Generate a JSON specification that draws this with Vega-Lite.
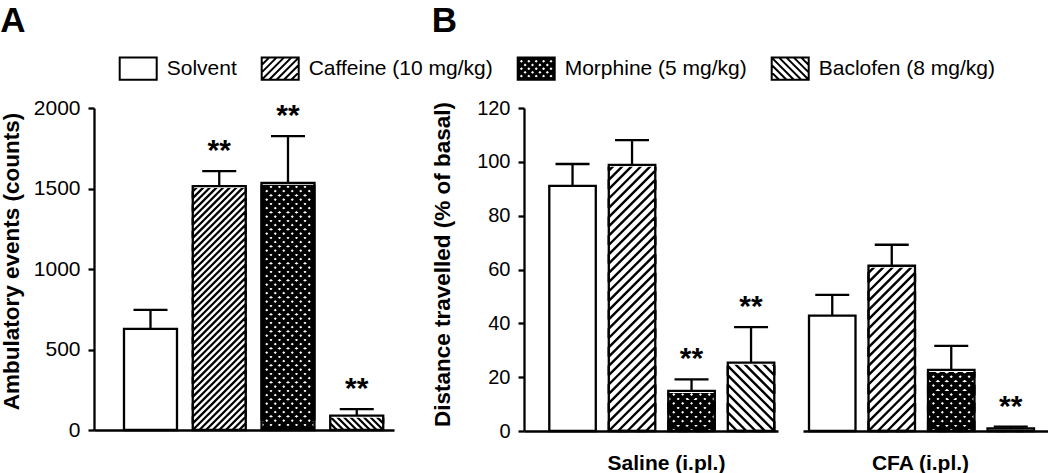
{
  "$schema": "https://vega.github.io/schema/vega-lite/v6.json",
  "background": "white",
  "padding": {"left": 0, "top": 4, "right": 0, "bottom": 0},
  "config": {
    "view": {"stroke": null},
    "axis": {"grid": false, "domainColor": "black", "domainWidth": 2.3, "tickColor": "black", "tickWidth": 2.3, "tickSize": 6, "labelColor": "black", "labelFont": "Liberation Sans", "labelFontSize": 21, "labelPadding": 8, "titleColor": "black", "titleFont": "Liberation Sans", "titleFontSize": 22.5, "titleFontWeight": "bold"},
    "legend": {"orient": "none", "legendX": 33.7, "legendY": -50, "direction": "horizontal", "title": null, "symbolSize": 219.04, "symbolStrokeWidth": 2, "symbolStrokeColor": "black", "labelFontSize": 21, "labelFont": "Liberation Sans", "labelColor": "black", "labelOffset": 18, "columnPadding": 20, "labelLimit": 400, "padding": 0, "symbolOpacity": 1}
  },
  "datasets": {
    "d": [
      {"group": "A", "treatment": "Solvent", "value": 628, "top": 746, "sig": ""},
      {"group": "A", "treatment": "Caffeine", "value": 1515, "top": 1608, "sig": "**"},
      {"group": "A", "treatment": "Morphine", "value": 1535, "top": 1825, "sig": "**"},
      {"group": "A", "treatment": "Baclofen", "value": 89, "top": 130, "sig": "**"},
      {"group": "Saline", "treatment": "Solvent", "value": 91.1, "top": 99.2, "sig": ""},
      {"group": "Saline", "treatment": "Caffeine", "value": 98.9, "top": 108.1, "sig": ""},
      {"group": "Saline", "treatment": "Morphine", "value": 14.9, "top": 19.2, "sig": "**"},
      {"group": "Saline", "treatment": "Baclofen", "value": 25.4, "top": 38.6, "sig": "**"},
      {"group": "CFA", "treatment": "Solvent", "value": 42.9, "top": 50.6, "sig": ""},
      {"group": "CFA", "treatment": "Caffeine", "value": 61.4, "top": 69.2, "sig": ""},
      {"group": "CFA", "treatment": "Morphine", "value": 22.7, "top": 31.6, "sig": ""},
      {"group": "CFA", "treatment": "Baclofen", "value": 1.0, "top": 1.6, "sig": "**"}
    ]
  },
  "spacing": 130,
  "bounds": "flush",
  "resolve": {"scale": {"shape": "independent", "fill": "independent", "stroke": "independent"}, "legend": {"shape": "independent", "fill": "independent", "stroke": "independent"}},
  "hconcat": [
    {
      "width": 300,
      "height": 322,
      "data": {"name": "d"},
      "transform": [{"filter": "datum.group === 'A'"}],
      "title": {"text": "A", "anchor": "start", "frame": "bounds", "fontSize": 35, "fontWeight": "bold", "font": "Liberation Sans", "color": "black", "offset": 19},
      "resolve": {"scale": {"shape": "independent", "fill": "independent", "stroke": "independent"}, "legend": {"shape": "independent", "fill": "independent", "stroke": "independent"}},
      "encoding": {
        "x": {"field": "treatment", "type": "nominal", "scale": {"domain": ["Solvent", "Caffeine", "Morphine", "Baclofen"], "paddingInner": 0.2291, "paddingOuter": 0.29636, "align": 0.736}, "axis": {"labels": false, "ticks": false, "title": null, "zindex": 1}}
      },
      "layer": [
        {
          "transform": [{"filter": "datum.treatment !== 'Solvent'"}],
          "mark": {"type": "point", "filled": false, "opacity": 1, "color": "black", "strokeJoin": "bevel", "strokeCap": "butt"},
          "encoding": {
            "y": {"datum": 0, "type": "quantitative", "scale": {"domain": [0, 2000]}},
            "shape": {
              "field": "treatment", "type": "nominal", "legend": null,
              "scale": {"domain": ["Solvent", "Caffeine", "Morphine", "Baclofen"], "range": [
                "M0,0",
                "M4,-1l-1,1h-1l2,-2v-1l-3,3h-1l4,-4v-1l-5,5h-1l6,-6v-1l-7,7h-1l8,-8v-1l-8,8v-1l8,-8v-1l-8,8v-1l8,-8v-1l-8,8v-1l8,-8v-1l-8,8v-1l8,-8v-1l-8,8v-1l8,-8v-1l-8,8v-1l8,-8v-1l-8,8v-1l8,-8v-1l-8,8v-1l8,-8v-1l-8,8v-1l8,-8v-1l-8,8v-1l8,-8v-1l-8,8v-1l8,-8v-1l-8,8v-1l8,-8v-1l-8,8v-1l8,-8v-1l-8,8v-1l8,-8v-1l-8,8v-1l8,-8v-1l-8,8v-1l8,-8v-1l-8,8v-1l8,-8v-1l-8,8v-1l8,-8v-1l-8,8v-1l8,-8",
                "M3,-1.106l-1,1h-1l2,-2v-1l-3,3h-1l4,-4v-1l-5,5h-1l6,-6v-1l-6,6v-1l6,-6v-1l-6,6v-1l6,-6v-1l-6,6v-1l6,-6v-1l-6,6v-1l6,-6v-1l-6,6v-1l6,-6v-1l-6,6v-1l6,-6v-1l-6,6v-1l6,-6v-1l-6,6v-1l6,-6v-1l-6,6v-1l6,-6v-1l-6,6v-1l6,-6v-1l-6,6v-1l6,-6v-1l-6,6v-1l6,-6v-1l-6,6v-1l6,-6v-1l-6,6v-1l6,-6v-1l-6,6v-1l6,-6M-3,-1.106l1,1h1l-2,-2v-1l3,3h1l-4,-4v-1l5,5h1l-6,-6v-1l6,6v-1l-6,-6v-1l6,6v-1l-6,-6v-1l6,6v-1l-6,-6v-1l6,6v-1l-6,-6v-1l6,6v-1l-6,-6v-1l6,6v-1l-6,-6v-1l6,6v-1l-6,-6v-1l6,6v-1l-6,-6v-1l6,6v-1l-6,-6v-1l6,6v-1l-6,-6v-1l6,6v-1l-6,-6v-1l6,6v-1l-6,-6v-1l6,6v-1l-6,-6v-1l6,6v-1l-6,-6",
                "M-4,-1l1,1h1l-2,-2v-1l3,3h1l-4,-4v-1l5,5h1l-6,-6v-1l7,7h1l-8,-8v-1l8,8v-1l-8,-8v-1l8,8v-1l-8,-8"
              ]}
            },
            "size": {"condition": {"test": "datum.treatment === 'Morphine'", "value": 289}, "value": 175.5625},
            "strokeWidth": {"condition": {"test": "datum.treatment === 'Morphine'", "value": 4}, "value": 2.2}
          }
        },
        {
          "mark": {"type": "bar", "fill": "white", "stroke": "white", "strokeWidth": 4},
          "encoding": {"y": {"field": "value", "type": "quantitative", "scale": {"domain": [0, 2000]}}, "y2": {"datum": 2000}}
        },
        {
          "mark": {"type": "bar", "fill": "transparent", "stroke": "black", "strokeWidth": 2.3},
          "encoding": {"y": {"field": "value", "type": "quantitative", "scale": {"domain": [0, 2000]}, "axis": {"title": "Ambulatory events (counts)", "values": [0, 500, 1000, 1500, 2000], "format": "d", "titlePadding": 10, "titleY": 153}}}
        },
        {
          "mark": {"type": "rule", "color": "black", "strokeWidth": 2.3, "opacity": 1},
          "encoding": {"y": {"field": "value", "type": "quantitative", "scale": {"domain": [0, 2000]}}, "y2": {"field": "top"}}
        },
        {
          "mark": {"type": "tick", "orient": "horizontal", "size": 34, "thickness": 2.3, "color": "black", "opacity": 1},
          "encoding": {"y": {"field": "top", "type": "quantitative", "scale": {"domain": [0, 2000]}}}
        },
        {
          "transform": [{"filter": "datum.sig !== ''"}],
          "mark": {"type": "text", "font": "Liberation Sans", "fontSize": 30, "fontWeight": "bold", "baseline": "alphabetic", "dy": -11, "color": "black"},
          "encoding": {"y": {"field": "top", "type": "quantitative", "scale": {"domain": [0, 2000]}}, "text": {"field": "sig"}}
        },
        {
          "transform": [{"filter": "false"}],
          "mark": {"type": "point", "filled": true, "opacity": 1, "strokeWidth": 2, "size": 219.04},
          "encoding": {
            "shape": {
              "field": "treatment", "type": "nominal",
              "scale": {"domain": ["Solvent", "Caffeine", "Morphine", "Baclofen"], "range": [
                "M-2.5,-1.5h5v3h-5z",
                "M-2.5,-1.5h5v3h-5zM-2.5,-0.5L-1.5,-1.5M-2.5,0.5L-0.5,-1.5M-2.5,1.5L0.5,-1.5M-1.5,1.5L1.5,-1.5M-0.5,1.5L2.5,-1.5M0.5,1.5L2.5,-0.5M1.5,1.5L2.5,0.5",
                "M-2.5,-1.5h5v3h-5zM-2.39,-1l.39,.39l.39,-.39l-.39,-.39zM-1.39,-1l.39,.39l.39,-.39l-.39,-.39zM-.39,-1l.39,.39l.39,-.39l-.39,-.39zM.61,-1l.39,.39l.39,-.39l-.39,-.39zM1.61,-1l.39,.39l.39,-.39l-.39,-.39zM-2.39,0l.39,.39l.39,-.39l-.39,-.39zM-1.39,0l.39,.39l.39,-.39l-.39,-.39zM-.39,0l.39,.39l.39,-.39l-.39,-.39zM.61,0l.39,.39l.39,-.39l-.39,-.39zM1.61,0l.39,.39l.39,-.39l-.39,-.39zM-2.39,1l.39,.39l.39,-.39l-.39,-.39zM-1.39,1l.39,.39l.39,-.39l-.39,-.39zM-.39,1l.39,.39l.39,-.39l-.39,-.39zM.61,1l.39,.39l.39,-.39l-.39,-.39zM1.61,1l.39,.39l.39,-.39l-.39,-.39zM-1.89,-.5l.39,.39l.39,-.39l-.39,-.39zM-.89,-.5l.39,.39l.39,-.39l-.39,-.39zM.11,-.5l.39,.39l.39,-.39l-.39,-.39zM1.11,-.5l.39,.39l.39,-.39l-.39,-.39zM-1.89,.5l.39,.39l.39,-.39l-.39,-.39zM-.89,.5l.39,.39l.39,-.39l-.39,-.39zM.11,.5l.39,.39l.39,-.39l-.39,-.39zM1.11,.5l.39,.39l.39,-.39l-.39,-.39z",
                "M-2.5,-1.5h5v3h-5zM2.5,-0.5L1.5,-1.5M2.5,0.5L0.5,-1.5M2.5,1.5L-0.5,-1.5M1.5,1.5L-1.5,-1.5M0.5,1.5L-2.5,-1.5M-0.5,1.5L-2.5,-0.5M-1.5,1.5L-2.5,0.5"
              ]},
              "legend": {"labelExpr": "datum.label === 'Caffeine' ? 'Caffeine (10 mg/kg)' : datum.label === 'Morphine' ? 'Morphine (5 mg/kg)' : datum.label === 'Baclofen' ? 'Baclofen (8 mg/kg)' : datum.label"}
            },
            "fill": {
              "field": "treatment", "type": "nominal",
              "scale": {"domain": ["Solvent", "Caffeine", "Morphine", "Baclofen"], "range": ["white", "white", "black", "white"]},
              "legend": {"labelExpr": "datum.label === 'Caffeine' ? 'Caffeine (10 mg/kg)' : datum.label === 'Morphine' ? 'Morphine (5 mg/kg)' : datum.label === 'Baclofen' ? 'Baclofen (8 mg/kg)' : datum.label"}
            },
            "stroke": {
              "field": "treatment", "type": "nominal",
              "scale": {"domain": ["Solvent", "Caffeine", "Morphine", "Baclofen"], "range": ["black", "black", "black", "black"]},
              "legend": {"labelExpr": "datum.label === 'Caffeine' ? 'Caffeine (10 mg/kg)' : datum.label === 'Morphine' ? 'Morphine (5 mg/kg)' : datum.label === 'Baclofen' ? 'Baclofen (8 mg/kg)' : datum.label"}
            }
          }
        }
      ]
    },
    {
      "spacing": 25,
      "bounds": "flush",
      "hconcat": [
        {
          "width": 254,
          "height": 323,
          "data": {"name": "d"},
          "transform": [{"filter": "datum.group === 'Saline'"}],
          "title": {"text": "B", "anchor": "start", "frame": "bounds", "fontSize": 35, "fontWeight": "bold", "font": "Liberation Sans", "color": "black", "offset": 59},
          "encoding": {
            "x": {"field": "treatment", "type": "nominal", "scale": {"domain": ["Solvent", "Caffeine", "Morphine", "Baclofen"], "paddingInner": 0.21849, "paddingOuter": 0.2437, "align": 0.872}, "axis": {"labels": false, "ticks": false, "title": "Saline (i.pl.)", "titleFontSize": 21, "titlePadding": 21, "titleX": 142, "zindex": 1}}
          },
          "layer": [
            {
              "transform": [{"filter": "datum.treatment !== 'Solvent'"}],
              "mark": {"type": "point", "filled": false, "opacity": 1, "color": "black", "strokeJoin": "bevel", "strokeCap": "butt"},
              "encoding": {
                "y": {"datum": 0, "type": "quantitative", "scale": {"domain": [0, 120]}},
                "shape": {
                  "field": "treatment", "type": "nominal", "legend": null,
                  "scale": {"domain": ["Solvent", "Caffeine", "Morphine", "Baclofen"], "range": [
                    "M0,0",
                    "M2.5,-1l-1,1h-1l2,-2v-1l-3,3h-1l4,-4v-1l-5,5v-1l5,-5v-1l-5,5v-1l5,-5v-1l-5,5v-1l5,-5v-1l-5,5v-1l5,-5v-1l-5,5v-1l5,-5v-1l-5,5v-1l5,-5v-1l-5,5v-1l5,-5v-1l-5,5v-1l5,-5v-1l-5,5v-1l5,-5v-1l-5,5v-1l5,-5v-1l-5,5v-1l5,-5v-1l-5,5v-1l5,-5v-1l-5,5v-1l5,-5v-1l-5,5v-1l5,-5v-1l-5,5v-1l5,-5",
                    "M2.5,-1.101l-1,1h-1l2,-2v-1l-3,3h-1l4,-4v-1l-5,5v-1l5,-5v-1l-5,5v-1l5,-5v-1l-5,5v-1l5,-5v-1l-5,5v-1l5,-5v-1l-5,5M-2.5,-1.101l1,1h1l-2,-2v-1l3,3h1l-4,-4v-1l5,5v-1l-5,-5v-1l5,5v-1l-5,-5v-1l5,5v-1l-5,-5v-1l5,5v-1l-5,-5v-1l5,5",
                    "M-2.5,-1l1,1h1l-2,-2v-1l3,3h1l-4,-4v-1l5,5v-1l-5,-5v-1l5,5v-1l-5,-5v-1l5,5v-1l-5,-5v-1l5,5v-1l-5,-5v-1l5,5"
                  ]}
                },
                "size": {"condition": {"test": "datum.treatment === 'Morphine'", "value": 316.84}, "value": 345.96},
                "strokeWidth": {"condition": {"test": "datum.treatment === 'Morphine'", "value": 4.2}, "value": 2.4}
              }
            },
            {
              "mark": {"type": "bar", "fill": "white", "stroke": "white", "strokeWidth": 4},
              "encoding": {"y": {"field": "value", "type": "quantitative", "scale": {"domain": [0, 120]}}, "y2": {"datum": 120}}
            },
            {
              "mark": {"type": "bar", "fill": "transparent", "stroke": "black", "strokeWidth": 2.3},
              "encoding": {"y": {"field": "value", "type": "quantitative", "scale": {"domain": [0, 120]}, "axis": {"title": "Distance travelled (% of basal)", "values": [0, 20, 40, 60, 80, 100, 120], "format": "d", "labelFontSize": 20, "titlePadding": 22, "titleY": 156}}}
            },
            {
              "mark": {"type": "rule", "color": "black", "strokeWidth": 2.3, "opacity": 1},
              "encoding": {"y": {"field": "value", "type": "quantitative", "scale": {"domain": [0, 120]}}, "y2": {"field": "top"}}
            },
            {
              "mark": {"type": "tick", "orient": "horizontal", "size": 34, "thickness": 2.3, "color": "black", "opacity": 1},
              "encoding": {"y": {"field": "top", "type": "quantitative", "scale": {"domain": [0, 120]}}}
            },
            {
              "transform": [{"filter": "datum.sig !== ''"}],
              "mark": {"type": "text", "font": "Liberation Sans", "fontSize": 30, "fontWeight": "bold", "baseline": "alphabetic", "dy": -11, "color": "black"},
              "encoding": {"y": {"field": "top", "type": "quantitative", "scale": {"domain": [0, 120]}}, "text": {"field": "sig"}}
            }
          ]
        },
        {
          "width": 245,
          "height": 323,
          "data": {"name": "d"},
          "transform": [{"filter": "datum.group === 'CFA'"}],
          "encoding": {
            "x": {"field": "treatment", "type": "nominal", "scale": {"domain": ["Solvent", "Caffeine", "Morphine", "Baclofen"], "paddingInner": 0.21849, "paddingOuter": 0.16807, "align": 0.3}, "axis": {"labels": false, "ticks": false, "title": "CFA (i.pl.)", "titleFontSize": 21, "titlePadding": 21, "titleX": 117, "zindex": 1}}
          },
          "layer": [
            {
              "transform": [{"filter": "datum.treatment !== 'Solvent'"}],
              "mark": {"type": "point", "filled": false, "opacity": 1, "color": "black", "strokeJoin": "bevel", "strokeCap": "butt"},
              "encoding": {
                "y": {"datum": 0, "type": "quantitative", "scale": {"domain": [0, 120]}, "axis": null},
                "shape": {
                  "field": "treatment", "type": "nominal", "legend": null,
                  "scale": {"domain": ["Solvent", "Caffeine", "Morphine", "Baclofen"], "range": [
                    "M0,0",
                    "M2.5,-1l-1,1h-1l2,-2v-1l-3,3h-1l4,-4v-1l-5,5v-1l5,-5v-1l-5,5v-1l5,-5v-1l-5,5v-1l5,-5v-1l-5,5v-1l5,-5v-1l-5,5v-1l5,-5v-1l-5,5v-1l5,-5v-1l-5,5v-1l5,-5v-1l-5,5v-1l5,-5v-1l-5,5v-1l5,-5v-1l-5,5v-1l5,-5v-1l-5,5v-1l5,-5v-1l-5,5v-1l5,-5v-1l-5,5v-1l5,-5v-1l-5,5v-1l5,-5v-1l-5,5v-1l5,-5",
                    "M2.5,-1.101l-1,1h-1l2,-2v-1l-3,3h-1l4,-4v-1l-5,5v-1l5,-5v-1l-5,5v-1l5,-5v-1l-5,5v-1l5,-5v-1l-5,5v-1l5,-5v-1l-5,5M-2.5,-1.101l1,1h1l-2,-2v-1l3,3h1l-4,-4v-1l5,5v-1l-5,-5v-1l5,5v-1l-5,-5v-1l5,5v-1l-5,-5v-1l5,5v-1l-5,-5v-1l5,5",
                    "M-2.5,-1l1,1h1l-2,-2v-1l3,3h1l-4,-4v-1l5,5v-1l-5,-5v-1l5,5v-1l-5,-5v-1l5,5v-1l-5,-5v-1l5,5v-1l-5,-5v-1l5,5"
                  ]}
                },
                "size": {"condition": {"test": "datum.treatment === 'Morphine'", "value": 316.84}, "value": 345.96},
                "strokeWidth": {"condition": {"test": "datum.treatment === 'Morphine'", "value": 4.2}, "value": 2.4}
              }
            },
            {
              "mark": {"type": "bar", "fill": "white", "stroke": "white", "strokeWidth": 4},
              "encoding": {"y": {"field": "value", "type": "quantitative", "scale": {"domain": [0, 120]}, "axis": null}, "y2": {"datum": 120}}
            },
            {
              "mark": {"type": "bar", "fill": "transparent", "stroke": "black", "strokeWidth": 2.3},
              "encoding": {"y": {"field": "value", "type": "quantitative", "scale": {"domain": [0, 120]}, "axis": null}}
            },
            {
              "mark": {"type": "rule", "color": "black", "strokeWidth": 2.3, "opacity": 1},
              "encoding": {"y": {"field": "value", "type": "quantitative", "scale": {"domain": [0, 120]}, "axis": null}, "y2": {"field": "top"}}
            },
            {
              "mark": {"type": "tick", "orient": "horizontal", "size": 34, "thickness": 2.3, "color": "black", "opacity": 1},
              "encoding": {"y": {"field": "top", "type": "quantitative", "scale": {"domain": [0, 120]}, "axis": null}}
            },
            {
              "transform": [{"filter": "datum.sig !== ''"}],
              "mark": {"type": "text", "font": "Liberation Sans", "fontSize": 30, "fontWeight": "bold", "baseline": "alphabetic", "dy": -11, "color": "black"},
              "encoding": {"y": {"field": "top", "type": "quantitative", "scale": {"domain": [0, 120]}, "axis": null}, "text": {"field": "sig"}}
            }
          ]
        }
      ]
    }
  ]
}
